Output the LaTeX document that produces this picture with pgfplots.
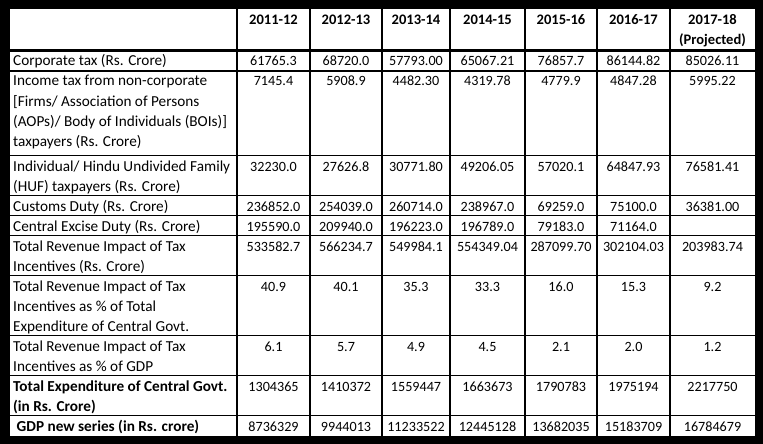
\documentclass[border=0pt]{standalone}
\usepackage{pgfplots}
\usepackage{pgfplotstable}
\pgfplotsset{compat=1.18}
\usepackage{fontspec}
\setmainfont{Carlito}
\newcommand\tfont{\fontsize{15.3}{20}\selectfont}
\newcommand\nfont{\fontsize{14.2}{20}\selectfont}
\tikzset{lab/.style={anchor=base west, inner sep=0pt, font=\tfont}}

% header cells: x = column centre, y = baseline (pixels from top)
\pgfplotstableread[col sep=comma]{
x,y,v
273.5,25,2011-12
346,25,2012-13
416,25,2013-14
487.5,25,2014-15
561,25,2015-16
633.5,25,2016-17
712.5,25,2017-18
712.5,45,(Projected)
}\headers

% value cells
\pgfplotstableread[col sep=comma]{
x,y,v
273.5,66,61765.3
346,66,68720.0
416,66,57793.00
487.5,66,65067.21
561,66,76857.7
633.5,66,86144.82
712.5,66,85026.11
273.5,86,7145.4
346,86,5908.9
416,86,4482.30
487.5,86,4319.78
561,86,4779.9
633.5,86,4847.28
712.5,86,5995.22
273.5,171,32230.0
346,171,27626.8
416,171,30771.80
487.5,171,49206.05
561,171,57020.1
633.5,171,64847.93
712.5,171,76581.41
273.5,211,236852.0
346,211,254039.0
416,211,260714.0
487.5,211,238967.0
561,211,69259.0
633.5,211,75100.0
712.5,211,36381.00
273.5,231,195590.0
346,231,209940.0
416,231,196223.0
487.5,231,196789.0
561,231,79183.0
633.5,231,71164.0
273.5,251,533582.7
346,251,566234.7
416,251,549984.1
487.5,251,554349.04
561,251,287099.70
633.5,251,302104.03
712.5,251,203983.74
273.5,291,40.9
346,291,40.1
416,291,35.3
487.5,291,33.3
561,291,16.0
633.5,291,15.3
712.5,291,9.2
273.5,351,6.1
346,351,5.7
416,351,4.9
487.5,351,4.5
561,351,2.1
633.5,351,2.0
712.5,351,1.2
273.5,391,1304365
346,391,1410372
416,391,1559447
487.5,391,1663673
561,391,1790783
633.5,391,1975194
712.5,391,2217750
273.5,431,8736329
346,431,9944013
416,431,11233522
487.5,431,12445128
561,431,13682035
633.5,431,15183709
712.5,431,16784679
}\vals

\begin{document}
\begin{tikzpicture}
\begin{axis}[
  scale only axis, width=763bp, height=444bp,
  xmin=0, xmax=763, ymin=0, ymax=444, y dir=reverse,
  hide axis, clip=false,
  every node near coord/.append style={anchor=base, inner sep=0pt, yshift=0pt,
     font=\nfont, text=black},
]
% background and white table area
\addplot[fill=black, draw=none, forget plot] coordinates {(0,0) (763,0) (763,444) (0,444)} -- cycle;
\addplot[fill=white, draw=none, forget plot] coordinates {(9.5,9.5) (754.5,9.5) (754.5,435.5) (9.5,435.5)} -- cycle;

% vertical grid lines
\foreach \xx in {237,310,382,450,525,597,670}{
  \edef\tmp{\noexpand\addplot[black, line width=2.2bp, forget plot] coordinates {(\xx,9.5) (\xx,435.5)};}
  \tmp
}
% header bottom line (thick)
\addplot[black, line width=3bp, forget plot] coordinates {(9.5,50.8) (754.5,50.8)};
% horizontal grid lines
\foreach \yy in {71,155.5,195.5,215.5,235.5,275.5,335.5,375.5,415.5}{
  \edef\tmp{\noexpand\addplot[black, line width=1.8bp, forget plot] coordinates {(9.5,\yy) (754.5,\yy)};}
  \tmp
}

% header text
\addplot[draw=none, mark=none, nodes near coords, point meta=explicit symbolic,
  every node near coord/.append style={font=\fontsize{14.6}{20}\selectfont\bfseries}]
  table[x=x, y=y, meta=v]{\headers};
% values
\addplot[draw=none, mark=none, nodes near coords, point meta=explicit symbolic]
  table[x=x, y=y, meta=v]{\vals};

% row labels
\node[lab] at (axis cs:13,66) {Corporate tax (Rs. Crore)};
\node[lab] at (axis cs:13,86) {Income tax from non-corporate};
\node[lab] at (axis cs:13,106) {[Firms/ Association of Persons};
\node[lab] at (axis cs:13,126) {(AOPs)/ Body of Individuals (BOIs)]};
\node[lab] at (axis cs:13,146) {taxpayers (Rs. Crore)};
\node[lab] at (axis cs:13,171) {Individual/ Hindu Undivided Family};
\node[lab] at (axis cs:13,191) {(HUF) taxpayers (Rs. Crore)};
\node[lab] at (axis cs:13,211) {Customs Duty (Rs. Crore)};
\node[lab] at (axis cs:13,231) {Central Excise Duty (Rs. Crore)};
\node[lab] at (axis cs:13,251) {Total Revenue Impact of Tax};
\node[lab] at (axis cs:13,271) {Incentives (Rs. Crore)};
\node[lab] at (axis cs:13,291) {Total Revenue Impact of Tax};
\node[lab] at (axis cs:13,311) {Incentives as \% of Total};
\node[lab] at (axis cs:13,331) {Expenditure of Central Govt.};
\node[lab] at (axis cs:13,351) {Total Revenue Impact of Tax};
\node[lab] at (axis cs:13,371) {Incentives as \% of GDP};
\node[lab, font=\tfont\bfseries] at (axis cs:13,391) {Total Expenditure of Central Govt.};
\node[lab, font=\tfont\bfseries] at (axis cs:13,411) {(in Rs. Crore)};
\node[lab, font=\tfont\bfseries] at (axis cs:16.5,431) {GDP new series (in Rs. crore)};
\end{axis}
\end{tikzpicture}
\end{document}
